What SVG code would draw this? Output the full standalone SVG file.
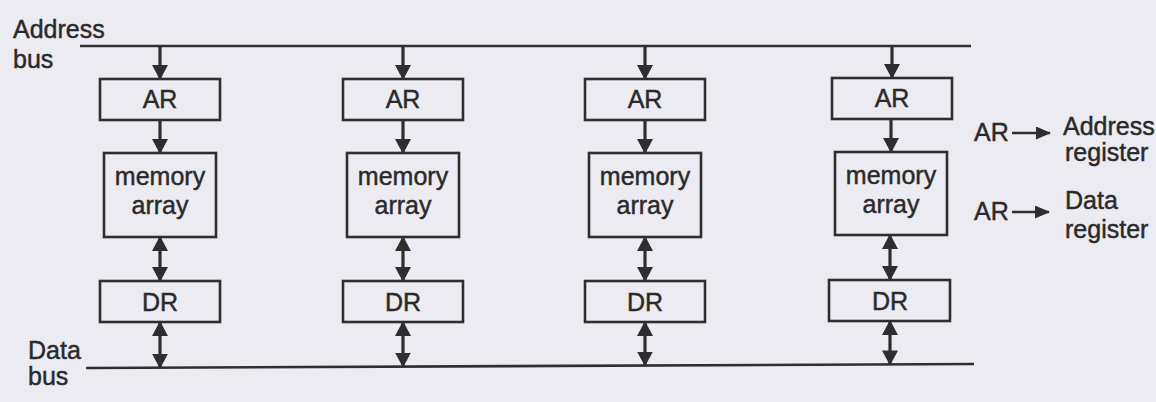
<svg xmlns="http://www.w3.org/2000/svg" width="1156" height="402" viewBox="0 0 1156 402">
  <defs>
    <style>
      .bg { fill: #ecebf2; }
      .box { fill: none; stroke: #2e2e2e; stroke-width: 2.6; }
      .bus { stroke: #2e2e2e; stroke-width: 2.6; fill: none; }
      .conn { stroke: #2e2e2e; stroke-width: 3.2; fill: none; }
      .lg { stroke: #2e2e2e; stroke-width: 2.6; fill: none; }
      text { font-family: "Liberation Sans", Arial, sans-serif; font-size: 25px; fill: #2a2a2a; stroke: #2a2a2a; stroke-width: 0.45; }
      .c { text-anchor: middle; }
    </style>
    <marker id="ah" viewBox="0 0 15 16" markerWidth="15" markerHeight="16" refX="14" refY="8" orient="auto-start-reverse" markerUnits="userSpaceOnUse">
      <path d="M0,0 L15,8 L0,16 Z" fill="#2e2e2e"/>
    </marker>
    <marker id="ahs" viewBox="0 0 15 13" markerWidth="15" markerHeight="13" refX="14" refY="6.5" orient="auto" markerUnits="userSpaceOnUse">
      <path d="M0,0 L15,6.5 L0,13 Z" fill="#2e2e2e"/>
    </marker>
  </defs>
  <rect class="bg" x="0" y="0" width="1156" height="402"/>

  <g id="address-bus">
    <line class="bus" x1="80" y1="46" x2="971" y2="46"/>
    <text x="13" y="38">Address</text>
    <text x="13" y="68">bus</text>
  </g>
  <g id="data-bus">
    <line class="bus" x1="86" y1="368" x2="974" y2="364"/>
    <text x="28" y="359">Data</text>
    <text x="28" y="385">bus</text>
  </g>

  <g id="module1">
    <g id="ar1"><rect class="box" x="100" y="79" width="120" height="41"/><text class="c" x="160" y="108">AR</text></g>
    <g id="mem1"><rect class="box" x="104" y="153" width="112" height="84"/><text class="c" x="160" y="185">memory</text><text class="c" x="160" y="214">array</text></g>
    <g id="dr1"><rect class="box" x="100" y="281" width="120" height="41"/><text class="c" x="160" y="311">DR</text></g>
  </g>
  <g id="module2">
    <g id="ar2"><rect class="box" x="343" y="79" width="120" height="41"/><text class="c" x="403" y="108">AR</text></g>
    <g id="mem2"><rect class="box" x="347" y="153" width="112" height="84"/><text class="c" x="403" y="185">memory</text><text class="c" x="403" y="214">array</text></g>
    <g id="dr2"><rect class="box" x="343" y="281" width="120" height="41"/><text class="c" x="403" y="311">DR</text></g>
  </g>
  <g id="module3">
    <g id="ar3"><rect class="box" x="585" y="79" width="120" height="41"/><text class="c" x="645" y="108">AR</text></g>
    <g id="mem3"><rect class="box" x="589" y="153" width="112" height="84"/><text class="c" x="645" y="185">memory</text><text class="c" x="645" y="214">array</text></g>
    <g id="dr3"><rect class="box" x="585" y="281" width="120" height="41"/><text class="c" x="645" y="311">DR</text></g>
  </g>
  <g id="module4">
    <g id="ar4"><rect class="box" x="832" y="78" width="120" height="41"/><text class="c" x="892" y="107">AR</text></g>
    <g id="mem4"><rect class="box" x="835" y="152" width="112" height="83"/><text class="c" x="891" y="184">memory</text><text class="c" x="891" y="213">array</text></g>
    <g id="dr4"><rect class="box" x="829" y="280" width="121" height="41"/><text class="c" x="890" y="310">DR</text></g>
  </g>

  <g id="connectors">
    <line class="conn" x1="160" y1="46" x2="160" y2="79" marker-end="url(#ah)"/>
    <line class="conn" x1="160" y1="120" x2="160" y2="153" marker-end="url(#ah)"/>
    <line class="conn" x1="160" y1="237" x2="160" y2="281" marker-start="url(#ah)" marker-end="url(#ah)"/>
    <line class="conn" x1="160" y1="322" x2="160" y2="367.7" marker-start="url(#ah)" marker-end="url(#ah)"/>

    <line class="conn" x1="403" y1="46" x2="403" y2="79" marker-end="url(#ah)"/>
    <line class="conn" x1="403" y1="120" x2="403" y2="153" marker-end="url(#ah)"/>
    <line class="conn" x1="403" y1="237" x2="403" y2="281" marker-start="url(#ah)" marker-end="url(#ah)"/>
    <line class="conn" x1="403" y1="322" x2="403" y2="366.6" marker-start="url(#ah)" marker-end="url(#ah)"/>

    <line class="conn" x1="645" y1="46" x2="645" y2="79" marker-end="url(#ah)"/>
    <line class="conn" x1="645" y1="120" x2="645" y2="153" marker-end="url(#ah)"/>
    <line class="conn" x1="645" y1="237" x2="645" y2="281" marker-start="url(#ah)" marker-end="url(#ah)"/>
    <line class="conn" x1="645" y1="322" x2="645" y2="365.5" marker-start="url(#ah)" marker-end="url(#ah)"/>

    <line class="conn" x1="892" y1="46" x2="892" y2="78" marker-end="url(#ah)"/>
    <line class="conn" x1="891" y1="119" x2="891" y2="152" marker-end="url(#ah)"/>
    <line class="conn" x1="890" y1="235" x2="890" y2="280" marker-start="url(#ah)" marker-end="url(#ah)"/>
    <line class="conn" x1="890" y1="321" x2="890" y2="364.4" marker-start="url(#ah)" marker-end="url(#ah)"/>
  </g>

  <g id="legend">
    <g id="legend-ar">
      <text x="974" y="141">AR</text>
      <line class="lg" x1="1012" y1="133" x2="1050" y2="133" marker-end="url(#ahs)"/>
      <text x="1063" y="135">Address</text>
      <text x="1065" y="161">register</text>
    </g>
    <g id="legend-dr">
      <text x="974" y="220">AR</text>
      <line class="lg" x1="1012" y1="212" x2="1049" y2="212" marker-end="url(#ahs)"/>
      <text x="1065" y="209">Data</text>
      <text x="1065" y="238">register</text>
    </g>
  </g>
</svg>
